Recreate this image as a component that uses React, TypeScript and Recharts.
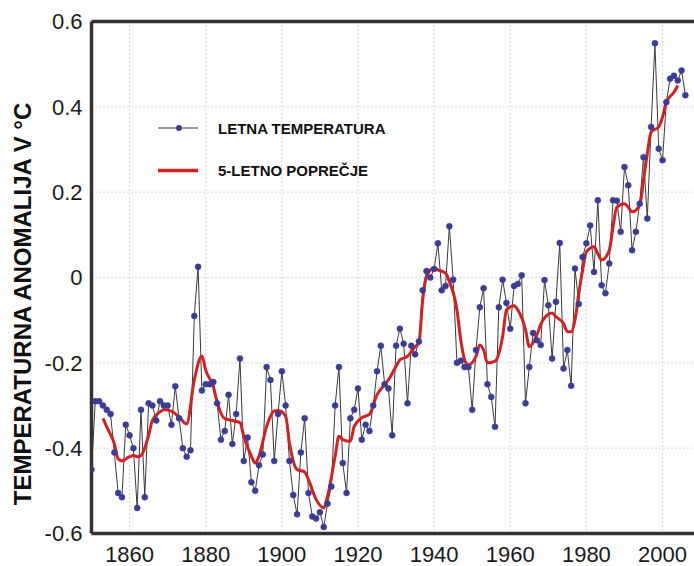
import { CartesianGrid, Line, LineChart, ReferenceLine, XAxis, YAxis } from 'recharts'

// annual global temperature anomaly, one value per year starting at 1850
const annualStart = 1850
const annualAnomaly = [
  -0.45, -0.29, -0.29, -0.3, -0.31, -0.32, -0.41, -0.505, -0.515, -0.345,
  -0.37, -0.4, -0.54, -0.31, -0.515, -0.295, -0.3, -0.335, -0.29, -0.3,
  -0.3, -0.345, -0.255, -0.33, -0.4, -0.42, -0.405, -0.09, 0.025, -0.265,
  -0.25, -0.25, -0.245, -0.295, -0.38, -0.36, -0.275, -0.39, -0.32, -0.19,
  -0.43, -0.375, -0.48, -0.5, -0.44, -0.415, -0.21, -0.24, -0.43, -0.32,
  -0.22, -0.3, -0.43, -0.51, -0.555, -0.41, -0.33, -0.505, -0.56, -0.565,
  -0.55, -0.585, -0.53, -0.49, -0.3, -0.21, -0.435, -0.505, -0.33, -0.31,
  -0.26, -0.38, -0.345, -0.36, -0.3, -0.22, -0.16, -0.25, -0.26, -0.37,
  -0.16, -0.12, -0.155, -0.295, -0.16, -0.18, -0.15, -0.03, 0.015, 0.0,
  0.02, 0.08, -0.03, -0.02, 0.12, -0.005, -0.2, -0.195, -0.21, -0.21,
  -0.31, -0.17, -0.07, -0.025, -0.25, -0.28, -0.35, -0.07, -0.005, -0.06,
  -0.12, -0.02, -0.015, 0.005, -0.295, -0.21, -0.13, -0.147, -0.158, -0.006,
  -0.065, -0.19, -0.057, 0.081, -0.213, -0.17, -0.254, 0.021, -0.062, 0.048,
  0.08, 0.122, 0.013, 0.181, -0.018, -0.037, 0.033, 0.181, 0.18, 0.107,
  0.259, 0.216, 0.064, 0.107, 0.173, 0.282, 0.138, 0.353, 0.549, 0.302,
  0.275, 0.411, 0.466, 0.473, 0.462, 0.485, 0.427,
]

// 5-year running mean
const smoothYears = [
  1853, 1854, 1856, 1857, 1858, 1860, 1861, 1862, 1863, 1865, 1866, 1868, 1869, 1871, 1873, 1875,
  1877, 1879, 1880, 1882, 1883, 1885, 1887, 1889, 1890, 1892, 1893, 1894, 1896, 1898, 1899, 1901,
  1902, 1904, 1906, 1907, 1909, 1911, 1912, 1914, 1915, 1916, 1918, 1919, 1921, 1923, 1925, 1927,
  1928, 1930, 1931, 1933, 1935, 1936, 1937, 1938, 1940, 1941, 1943, 1944, 1946, 1947, 1948, 1949,
  1951, 1952, 1953, 1954, 1956, 1958, 1959, 1961, 1962, 1964, 1965, 1967, 1968, 1970, 1971, 1972,
  1974, 1975, 1976, 1977, 1978, 1979, 1980, 1982, 1983, 1984, 1986, 1987, 1988, 1990, 1991, 1992,
  1994, 1995, 1996, 1997, 1999, 2000, 2001, 2003, 2004,
]
const smoothAnomaly = [
  -0.33, -0.35, -0.39, -0.425, -0.43, -0.42, -0.417, -0.42, -0.417, -0.37, -0.335, -0.315, -0.31, -0.313, -0.327, -0.343,
  -0.24, -0.184, -0.217, -0.256, -0.292, -0.331, -0.335, -0.34, -0.372, -0.419, -0.435, -0.419, -0.349, -0.313, -0.312, -0.325,
  -0.388, -0.45, -0.456, -0.474, -0.52, -0.54, -0.513, -0.419, -0.372, -0.38, -0.384, -0.349, -0.329, -0.321, -0.275, -0.251,
  -0.24, -0.208, -0.193, -0.185, -0.162, -0.154, -0.052, 0.002, 0.022, 0.018, 0.01, -0.009, -0.076, -0.146, -0.193, -0.205,
  -0.185, -0.158, -0.17, -0.2, -0.196, -0.138, -0.076, -0.066, -0.076, -0.122, -0.162, -0.135, -0.11, -0.086, -0.083, -0.092,
  -0.108, -0.127, -0.127, -0.1, -0.037, 0.017, 0.06, 0.072, 0.056, 0.041, 0.064, 0.119, 0.165, 0.173, 0.165, 0.154,
  0.169, 0.228, 0.29, 0.341, 0.353, 0.376, 0.411, 0.434, 0.45,
]

const xTicks = [1860, 1880, 1900, 1920, 1940, 1960, 1980, 2000]
const yTicks = [-0.6, -0.4, -0.2, 0, 0.2, 0.4, 0.6]

const legendLabels = ['LETNA TEMPERATURA', '5-LETNO POPREČJE']
const yAxisTitle = 'TEMPERATURNA ANOMALIJA V °C'

const annualData = annualAnomaly.map((value, i) => ({ year: annualStart + i, value }))
const smoothData = smoothYears.map((year, i) => ({ year, value: smoothAnomaly[i] }))

const font = '"Liberation Sans", Arial, sans-serif'
const tickStyle = { fontSize: 22, fill: '#1a1a1a', fontFamily: font }
const axisStroke = { stroke: '#333333', strokeWidth: 3.5 }
const dotColor = '#3c3c96'
const redColor = '#d42020'

export default function App() {
  return (
    <div
      style={{
        position: 'fixed',
        left: 0,
        top: 0,
        width: 694,
        height: 566,
        overflow: 'hidden',
        background: '#ffffff',
      }}
    >
      <LineChart width={720} height={566} margin={{ top: 21.5, right: 19.4, bottom: 0, left: 0 }}>
        <CartesianGrid stroke="#b5b5b5" strokeDasharray="1 3" />
        <XAxis
          type="number"
          dataKey="year"
          domain={[1850, 2010]}
          ticks={xTicks}
          allowDataOverflow
          height={32.5}
          tick={tickStyle}
          tickLine={false}
          tickSize={0}
          tickMargin={13}
          axisLine={axisStroke}
        />
        <YAxis
          type="number"
          domain={[-0.6, 0.6]}
          ticks={yTicks}
          width={91.5}
          tick={tickStyle}
          tickFormatter={(v: number) => (v === 0 ? '0' : v.toFixed(1))}
          tickLine={false}
          tickSize={0}
          tickMargin={9}
          axisLine={axisStroke}
        />
        <ReferenceLine y={0.6} stroke="#333333" strokeWidth={3.5} />
        <Line
          data={annualData}
          dataKey="value"
          type="linear"
          stroke="#3a3a3a"
          strokeWidth={1}
          dot={{ r: 3, fill: dotColor, stroke: dotColor, strokeWidth: 0.5 }}
          isAnimationActive={false}
        />
        <Line
          data={smoothData}
          dataKey="value"
          type="monotone"
          stroke={redColor}
          strokeWidth={3}
          dot={false}
          isAnimationActive={false}
        />
      </LineChart>
      <svg
        width={694}
        height={566}
        style={{ position: 'absolute', left: 0, top: 0, pointerEvents: 'none' }}
      >
        <text
          x={22}
          y={304}
          transform="rotate(-90 22 304)"
          textAnchor="middle"
          dominantBaseline="central"
          fontFamily={font}
          fontWeight={700}
          fontSize={24}
          fill="#111111"
        >
          {yAxisTitle}
        </text>
        <line x1={158} y1={128} x2={198} y2={128} stroke="#3a3a3a" strokeWidth={1} />
        <circle cx={179} cy={128} r={3} fill={dotColor} />
        <text x={218} y={128} dominantBaseline="central" fontFamily={font} fontWeight={700} fontSize={15} fill="#111111">
          {legendLabels[0]}
        </text>
        <line x1={158} y1={170.5} x2={198} y2={170.5} stroke={redColor} strokeWidth={3.5} />
        <text x={218} y={170.5} dominantBaseline="central" fontFamily={font} fontWeight={700} fontSize={15} fill="#111111">
          {legendLabels[1]}
        </text>
      </svg>
    </div>
  )
}
